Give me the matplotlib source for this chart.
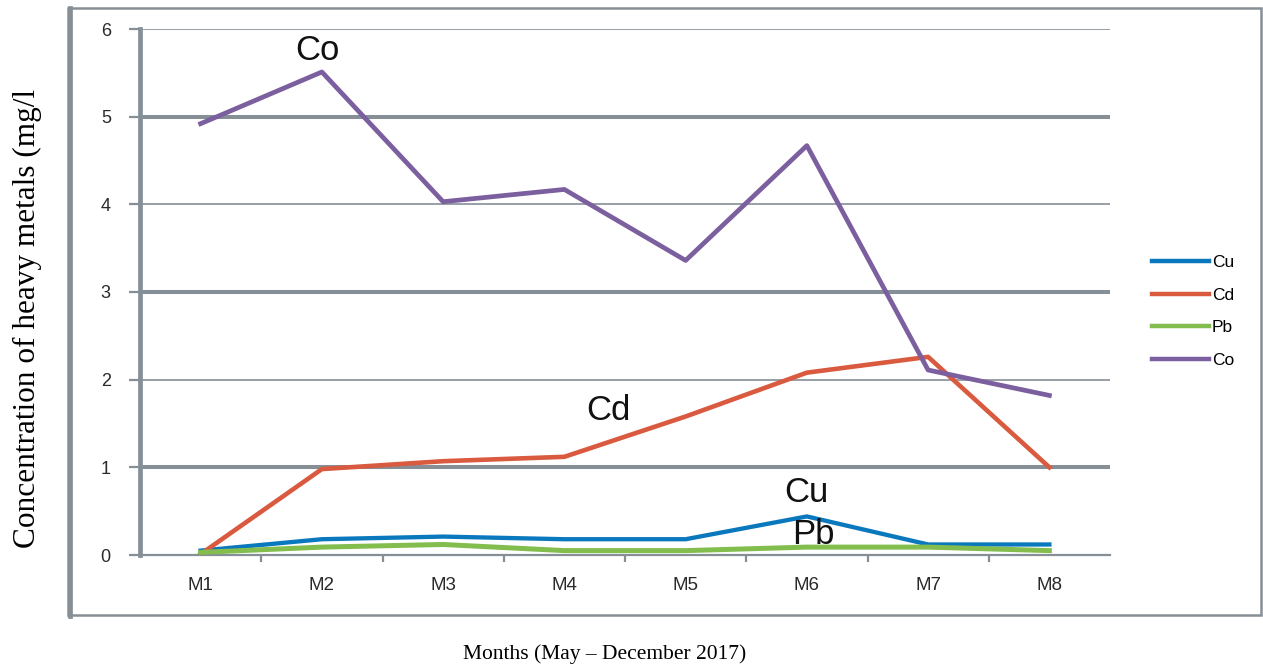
import matplotlib
matplotlib.use("Agg")
import matplotlib.pyplot as plt
from matplotlib.patches import Rectangle
from matplotlib.lines import Line2D
import numpy as np

months = ["M1", "M2", "M3", "M4", "M5", "M6", "M7", "M8"]
cu = [0.05, 0.18, 0.21, 0.18, 0.18, 0.44, 0.12, 0.12]
cd = [0.01, 0.98, 1.07, 1.12, 1.58, 2.08, 2.26, 1.00]
pb = [0.03, 0.09, 0.12, 0.05, 0.05, 0.09, 0.09, 0.05]
co = [4.92, 5.51, 4.03, 4.17, 3.36, 4.67, 2.11, 1.82]
yticks = [0, 1, 2, 3, 4, 5, 6]

W, H = 1263, 671
fig = plt.figure(figsize=(W / 100, H / 100), dpi=100)
GRAY = "#868e96"

# outer chart frame
fig.patches.append(Rectangle((68 / W, 1 - 615 / H), (1261 - 68) / W, (615 - 8) / H,
                             transform=fig.transFigure, fill=False,
                             edgecolor=GRAY, linewidth=1.8, zorder=0))
fig.lines.append(Line2D([69.5 / W, 69.5 / W], [1 - 616 / H, 1 - 8 / H],
                        transform=fig.transFigure, color=GRAY, linewidth=3.4))

ax = fig.add_axes([140 / W, 1 - 555 / H, (1110 - 140) / W, (555 - 29) / H])
x = np.arange(len(months))

ax.plot(x, cu, color="#0a78bd", lw=3.1, label="Cu", zorder=3)
ax.plot(x, cd, color="#d95a3f", lw=3.3, label="Cd", zorder=3)
ax.plot(x, pb, color="#82bd4e", lw=3.6, label="Pb", zorder=4)
ax.plot(x, co, color="#7b5f9e", lw=3.4, label="Co", zorder=3)

ax.set_xlim(-0.5, len(months) - 0.5)
ax.set_ylim(0, 6)
ax.set_yticks(yticks)
ax.set_xticks(x)
ax.set_xticklabels(months)
ax.set_xticks(np.arange(0.5, len(months) - 0.5, 1), minor=True)

for s in ["top", "right"]:
    ax.spines[s].set_visible(False)
ax.spines["left"].set_color(GRAY)
ax.spines["left"].set_linewidth(3.4)
ax.spines["bottom"].set_color(GRAY)
ax.spines["bottom"].set_linewidth(1.6)

ax.yaxis.grid(True, color=GRAY, zorder=1)
for i, gl in enumerate(ax.get_ygridlines()):
    gl.set_linewidth(2.9 if yticks[i] % 2 == 1 else 1.2)

ax.tick_params(axis="y", length=8, width=1.6, color=GRAY, labelsize=13, pad=13,
               labelcolor="#2a2a2a")
ax.tick_params(axis="x", which="major", length=0, labelsize=13.5, pad=16,
               labelcolor="#2a2a2a")
ax.tick_params(axis="x", which="minor", length=5, width=1.6, color=GRAY)
for lbl in ax.get_xticklabels() + ax.get_yticklabels():
    lbl.set_fontfamily("Liberation Sans")

# labels on the lines
tf = dict(fontfamily="Liberation Sans", fontsize=25, ha="center", va="center",
          color="#111111")
ax.text(0.96, 5.76, "Co", **tf)
ax.text(3.36, 1.65, "Cd", **tf)
ax.text(5.00, 0.71, "Cu", **tf)
ax.text(5.05, 0.23, "Pb", **tf)

fig.text(27 / W, 1 - 318 / H, "Concentration of heavy metals (mg/l",
         rotation=90, ha="center", va="center",
         fontfamily="Liberation Serif", fontsize=22.5)
fig.text(605 / W, 1 - 654 / H, "Months (May \u2013 December 2017)",
         ha="center", va="center", fontfamily="Liberation Serif", fontsize=15.5)

leg = ax.legend(loc="center left", bbox_to_anchor=(1.027, 0.463), frameon=False,
                prop={"family": "Liberation Sans", "size": 12.5},
                handlelength=3.3, handletextpad=0.15, labelspacing=1.02)
for h in leg.get_lines():
    h.set_linewidth(3.2)

fig.savefig("out.png", dpi=100)
